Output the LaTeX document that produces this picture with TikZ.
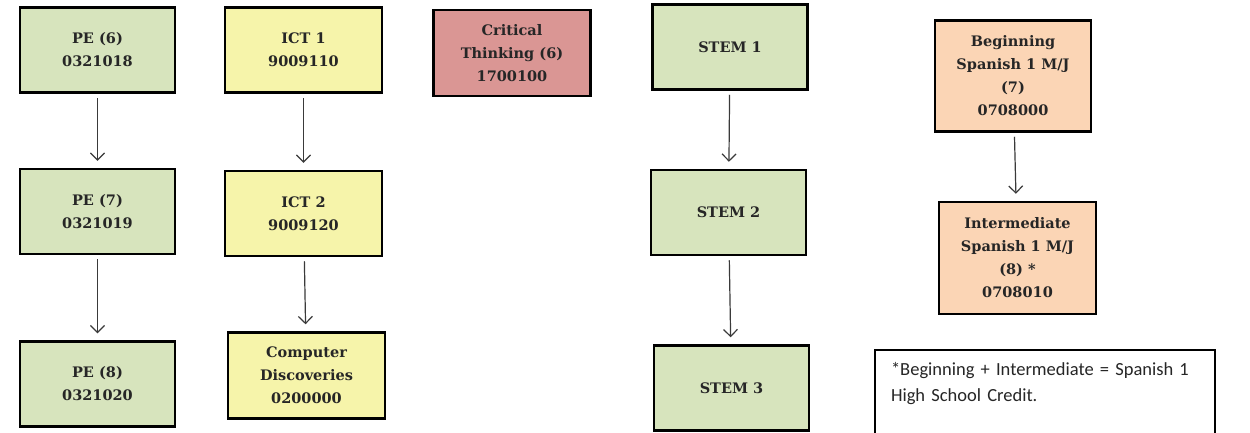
\documentclass[tikz,border=0pt]{standalone}
\usepackage{fontspec}
\setmainfont{DejaVu Serif}
\newfontfamily\notefont{Carlito}
\usetikzlibrary{positioning,arrows.meta}
\definecolor{boxGreen}{HTML}{D7E4BD}
\definecolor{boxYellow}{HTML}{F6F4AA}
\definecolor{boxRed}{HTML}{DA9694}
\definecolor{boxOrange}{HTML}{FBD5B5}
\definecolor{textGray}{HTML}{262626}
\definecolor{arrowGray}{HTML}{3A3A3A}
\tikzstyle{tArrow} = [draw=arrowGray, line width=1.2pt, {Straight Barb[length=7pt,width=14pt,line width=1.2pt]}-, shorten <=7pt, shorten >=4pt]
\tikzstyle{tBox} = [rectangle, draw=black, line width=2.5pt, align=center, minimum width=155pt, minimum height=85pt, text=textGray, font=\bfseries\fontsize{14.5}{23}\selectfont]
\tikzstyle{tNote} = [rectangle, draw=black, line width=2pt, align=left, text width=308pt, inner xsep=16pt, inner ysep=12pt, anchor=north west, text=textGray, font=\notefont\fontsize{18.5}{26}\selectfont]

\begin{document}
\begin{tikzpicture}[x=1pt,y=-1pt]
        \useasboundingbox[fill=white] (0,0) rectangle (1250,432);
        % PE column
        \node[tBox, fill=boxGreen] (PE6) at (97.5,50) {PE (6)\\0321018};
        \node[tBox, fill=boxGreen] (PE7) [below=74pt of PE6] {PE (7)\\0321019} edge [tArrow] (PE6);
        \node[tBox, fill=boxGreen] (PE8) [below=85pt of PE7] {PE (8)\\0321020} edge [tArrow] (PE7);
        % ICT column
        \node[tBox, fill=boxYellow, minimum width=157pt] (ICT1) at (303.5,50) {ICT 1\\9009110};
        \node[tBox, fill=boxYellow, minimum width=157pt] (ICT2) [below=76pt of ICT1] {ICT 2\\9009120} edge [tArrow] (ICT1);
        \node[tBox, fill=boxYellow, minimum width=157pt, minimum height=86pt] (CompDisc) [below=74pt of ICT2, xshift=3pt] {Computer\\Discoveries\\0200000} edge [tArrow] (ICT2);
        % Critical thinking
        \node[tBox, fill=boxRed, minimum width=157pt, minimum height=86pt] (CritThink) at (512,53) {Critical\\Thinking (6)\\1700100};
        % STEM column
        \node[tBox, fill=boxGreen] (STEM1) at (730,47) {STEM 1};
        \node[tBox, fill=boxGreen] (STEM2) [below=78pt of STEM1, xshift=-1.5pt] {STEM 2} edge [tArrow] (STEM1);
        \node[tBox, fill=boxGreen] (STEM3) [below=88pt of STEM2, xshift=3pt] {STEM 3} edge [tArrow] (STEM2);
        % Spanish column
        \node[tBox, fill=boxOrange, minimum width=156pt, minimum height=111pt] (BegSpan) at (1013,76) {Beginning\\Spanish 1 M/J\\(7)\\0708000};
        \node[tBox, fill=boxOrange, minimum width=157pt, minimum height=112pt] (IntSpan) [below=68pt of BegSpan, xshift=4.5pt] {Intermediate\\Spanish 1 M/J\\(8) *\\0708010} edge [tArrow] (BegSpan);
        \node[tNote] (Note) at (874,349) {*Beginning + Intermediate = Spanish 1\\High School Credit.\\ \mbox{}\\ \mbox{}};
    \end{tikzpicture}
\end{document}
